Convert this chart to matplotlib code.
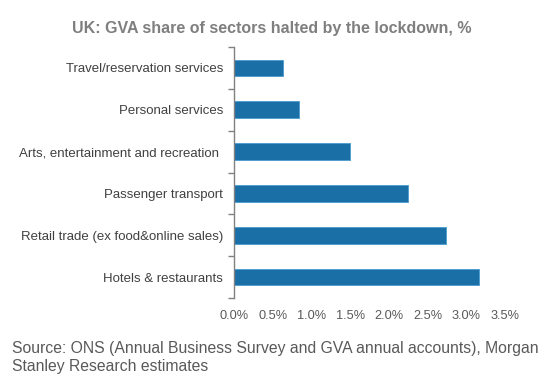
import matplotlib
matplotlib.use("Agg")
import matplotlib.pyplot as plt
from matplotlib.ticker import FuncFormatter

categories = ["Hotels & restaurants", "Retail trade (ex food&online sales)", "Passenger transport",
              "Arts, entertainment and recreation ", "Personal services", "Travel/reservation services"]
values = [3.16, 2.74, 2.25, 1.50, 0.84, 0.63]
xticks = [0.0, 0.5, 1.0, 1.5, 2.0, 2.5, 3.0, 3.5]

plt.rcParams['font.family'] = ['Liberation Sans', 'DejaVu Sans']

fig = plt.figure(figsize=(5.55, 3.77), dpi=100)
ax = fig.add_axes([234/555, 1-298/377, (505-234)/555, (298-47)/377])

y = list(range(len(categories)))
ax.barh(y, values, height=0.4, color="#1a6fa6", edgecolor="#4a9bd0", linewidth=0.6)
ax.set_xlim(0, 3.5)
ax.set_ylim(-0.5, len(categories)-0.5)
ax.set_xticks(xticks)
ax.xaxis.set_major_formatter(FuncFormatter(lambda v, p: f"{v:.1f}%"))
ax.set_yticks([i - 0.5 for i in range(len(categories)+1)], minor=False)
ax.set_yticklabels([])
ax.set_yticks(y, minor=True)
ax.set_yticklabels(categories, minor=True)
ax.tick_params(axis='y', which='major', length=4, color="#808080", width=1, direction='out')
ax.tick_params(axis='y', which='minor', length=0, labelsize=9.5, labelcolor="#404040", pad=8)
ax.tick_params(axis='x', length=0, labelsize=9.2, labelcolor="#595959", pad=8.5)
for s in ['top', 'right', 'bottom']:
    ax.spines[s].set_visible(False)
ax.spines['left'].set_color("#808080")
ax.spines['left'].set_linewidth(1)

fig.text(271.5/555, 1-28/377, "UK: GVA share of sectors halted by the lockdown, %", ha='center', va='center',
         fontsize=11.5, fontweight='bold', color="#7f7f7f")
fig.text(12/555, 1-348/377, "Source: ONS (Annual Business Survey and GVA annual accounts), Morgan",
         ha='left', va='center', fontsize=11.3, color="#595959")
fig.text(12/555, 1-366/377, "Stanley Research estimates",
         ha='left', va='center', fontsize=11.3, color="#595959")

fig.savefig("out.png", dpi=100)
